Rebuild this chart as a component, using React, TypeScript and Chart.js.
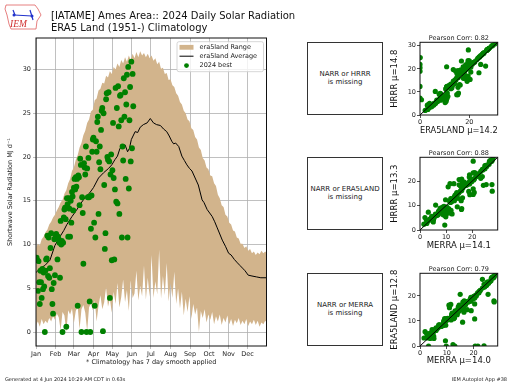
import React, { useEffect, useRef } from "react";
import { Chart, registerables } from "chart.js";

Chart.register(...registerables);

const FONT = "'DejaVu Sans', 'Liberation Sans', sans-serif";
Chart.defaults.font.family = FONT;

// ---------------- data ----------------
const monthStartDays = [1, 32, 61, 92, 122, 153, 183, 214, 245, 275, 306, 336];
const monthLabels = ["Jan", "Feb", "Mar", "Apr", "May", "Jun", "Jul", "Aug", "Sep", "Oct", "Nov", "Dec"];
const mainYTicks = [0, 5, 10, 15, 20, 25, 30];

// era5land range samples, first sample on day 1, one sample every 3 days
const rangeFirstDay = 1;
const rangeEveryDays = 3;
const rangeUpper = [
  9.6, 10.1, 9.9, 10.6, 10.9, 11.4, 11.7, 12.3, 12.6, 13.1,
  13.4, 13.9, 14.3, 14.8, 15.1, 15.8, 16.2, 17.0, 17.5, 18.4,
  18.8, 19.7, 20.2, 21.1, 21.6, 22.5, 23.0, 23.9, 24.3, 25.2,
  25.4, 26.5, 26.7, 27.6, 27.8, 28.5, 28.4, 29.3, 29.1, 29.8,
  29.5, 30.3, 30.0, 30.7, 30.3, 31.1, 30.7, 31.4, 30.9, 31.6,
  31.1, 31.8, 31.3, 32.0, 31.4, 32.1, 31.6, 31.9, 31.4, 31.8,
  31.3, 31.6, 31.0, 31.3, 30.6, 30.9, 30.1, 30.2, 29.5, 29.6,
  28.8, 28.9, 28.2, 28.0, 27.3, 27.0, 26.3, 26.0, 25.3, 25.0,
  24.3, 24.1, 23.3, 23.1, 22.3, 22.0, 21.1, 20.8, 19.9, 19.6,
  18.8, 18.6, 17.9, 17.8, 17.0, 16.7, 15.7, 15.3, 14.5, 14.3,
  13.4, 13.2, 12.5, 12.3, 11.6, 11.5, 10.8, 10.7, 10.1, 10.1,
  9.6, 9.8, 9.3, 9.5, 9.0, 9.2, 8.8, 9.1, 8.9, 9.3,
  9.0, 9.2, 9.0,
];
const rangeLower = [
  0.8, 1.2, 0.6, 1.5, 0.9, 1.3, 1.0, 1.6, 1.2, 1.8,
  1.4, 2.1, 1.7, 0.2, 2.3, 1.9, 0.0, 2.5, 2.0, 2.7,
  1.0, 2.4, 2.9, 0.3, 2.6, 3.1, 2.2, 0.1, 2.8, 3.3,
  2.5, 3.6, 1.2, 3.0, 4.2, 2.6, 3.4, 5.1, 2.9, 3.8,
  2.2, 4.6, 3.2, 5.6, 2.8, 4.0, 6.0, 3.4, 4.8, 2.4,
  5.9, 3.9, 4.4, 7.0, 3.6, 5.3, 4.1, 7.6, 3.7, 6.2,
  4.0, 8.8, 3.9, 5.8, 4.3, 9.4, 3.8, 6.4, 4.2, 7.9,
  3.5, 5.6, 3.9, 6.9, 3.2, 5.0, 2.7, 4.6, 1.9, 3.8,
  2.3, 4.1, 1.5, 3.2, 2.0, 2.8, 0.0, 2.4, 1.6, 2.6,
  1.1, 2.0, 1.4, 2.3, 0.9, 1.8, 1.2, 2.0, 0.8, 1.6,
  1.1, 1.9, 0.9, 1.5, 0.7, 1.4, 1.0, 1.6, 0.8, 1.3,
  0.9, 1.5, 0.7, 1.2, 0.9, 1.4, 0.8, 1.3, 0.6, 1.1,
  0.9, 1.3, 1.0,
];

const avgDays = [
  1, 8, 15, 23, 31, 39, 45, 50, 58, 65,
  71, 79, 86, 92, 100, 108, 116, 121, 126, 130,
  134, 138, 142, 146, 149, 152, 158, 162, 166, 171,
  177, 182, 187, 192, 198, 203, 208, 212, 216, 219,
  222, 227, 232, 236, 240, 244, 248, 253, 258, 264,
  267, 272, 276, 280, 284, 288, 292, 296, 301, 306,
  310, 315, 320, 324, 328, 332, 337, 343, 350, 357,
  366,
];
const avgValues = [
  6.8, 7.3, 7.6, 8.2, 9.9, 10.9, 11.6, 12.3, 13.2, 13.9,
  14.6, 15.4, 15.9, 16.5, 17.6, 18.2, 18.7, 19.1, 19.7, 20.1,
  21.0, 21.2, 21.4, 20.6, 21.0, 22.0, 22.9, 22.8, 23.4, 23.7,
  23.9, 24.4, 23.9, 23.7, 23.6, 23.2, 22.9, 22.4, 21.8, 21.5,
  21.6, 21.2, 20.1, 19.6, 19.1, 18.7, 18.4, 17.6, 16.8, 15.1,
  14.8, 14.0, 13.6, 13.2, 12.6, 11.9, 11.2, 10.5, 9.8, 9.0,
  8.8, 8.3, 7.9, 7.6, 7.3, 7.0, 6.5, 6.4, 6.3, 6.2,
  6.2,
];

// 2024 daily values, first value is Jan 1
const firstDay2024 = 1;
const era5land2024 = [
  8.3, 8.5, 8.2, 4.7, 8.1, 5.7, 3.2, 7.0, 5.7, 3.9,
  7.2, 4.9, 6.8, 5.2, 0.0, 7.0, 8.3, 8.4, 11.0, 6.4,
  10.8, 6.2, 7.3, 9.6, 11.3, 4.9, 3.2, 2.1, 5.6, 10.6,
  6.5, 10.9, 11.2, 10.7, 8.3, 10.9, 10.6, 10.2, 6.2, 12.7,
  10.0, 10.4, 0.0, 10.2, 13.1, 14.0, 14.2, 12.9, 0.6, 15.3,
  14.6, 10.9, 15.3, 14.1, 10.9, 15.0, 12.5, 16.0, 15.5, 13.9,
  16.5, 17.5, 16.3, 17.7, 16.6, 17.5, 3.0, 17.9, 17.7, 14.5,
  19.8, 19.1, 0.0, 15.4, 13.6, 7.8, 19.3, 18.8, 18.0, 21.2,
  0.0, 18.7, 15.4, 19.9, 15.4, 3.5, 0.0, 11.8, 15.6, 20.6,
  22.0, 22.2, 12.5, 3.0, 10.8, 21.8, 20.6, 24.0, 24.6, 13.5,
  19.4, 21.2, 18.6, 23.1, 25.3, 25.6, 0.1, 25.0, 16.8, 9.5,
  11.3, 26.6, 27.3, 20.0, 19.7, 27.4, 19.5, 3.9, 18.0, 20.3,
  8.2, 18.5, 23.9, 17.6, 8.3, 16.3, 27.9, 14.9, 25.6, 14.7,
  28.1, 23.5, 13.5, 27.0, 27.1, 24.2, 10.8, 21.2, 19.6, 29.0,
  24.6, 27.4, 17.5, 26.0, 29.4, 10.8, 30.3, 16.4, 24.2, 28.0,
  19.5, 30.9, 21.0, 29.5, 25.8,
];
const hrrr2024 = [
  7.9, 8.8, 7.5, 3.6, 7.0, 5.1, 2.4, 6.2, 4.8, 3.3,
  6.1, 4.0, 6.5, 4.3, 7.3, 5.9, 8.9, 7.6, 9.4, 5.2,
  7.4, 10.2, 6.1, 8.0, 8.1, 4.4, 2.7, 2.0, 4.3, 6.9,
  5.6, 7.2, 11.8, 6.8, 6.4, 7.9, 6.0, 5.4, 5.0, 12.0,
  6.3, 11.3, 12.4, 7.7, 12.7, 13.5, 15.1, 11.7, 6.6, 16.2,
  15.3, 12.4, 8.8, 14.5, 9.7, 17.9, 11.4, 13.2, 16.3, 14.6,
  19.6, 18.3, 13.0, 18.6, 19.0, 18.5, 4.1, 18.9, 18.2, 19.0,
  20.6, 14.6, 19.0, 18.5, 14.2, 9.0, 20.3, 19.8, 17.3, 22.0,
  20.5, 19.9, 12.0, 21.0, 19.2, 4.6, 21.9, 12.9, 9.5, 20.7,
  22.9, 23.0, 13.4, 4.3, 20.9, 22.8, 18.6, 25.1, 25.7, 19.7,
  22.6, 22.4, 15.8, 24.0, 26.4, 26.5, 24.9, 26.0, 23.4, 8.4,
  12.3, 21.2, 28.4, 23.5, 20.6, 28.3, 16.9, 5.0, 18.6, 15.4,
  9.4, 21.7, 18.3, 15.9, 9.3, 17.7, 28.8, 8.8, 26.7, 15.9,
  29.0, 24.6, 14.7, 28.0, 28.1, 25.1, 12.0, 22.4, 28.2, 29.8,
  21.9, 28.3, 20.9, 27.0, 30.1, 12.2, 30.8, 18.5, 25.3, 28.9,
  23.6, 31.5, 22.3, 30.2, 26.8,
];
const merra2024 = [
  7.4, 9.0, 7.2, 3.0, 7.6, 1.9, 1.5, 6.3, 5.1, 5.1,
  6.0, 2.5, 5.9, 4.0, 3.2, 6.4, 7.7, 7.1, 10.3, 5.5,
  10.1, 6.0, 6.8, 8.8, 11.9, 3.6, 2.6, 9.5, 4.6, 10.8,
  4.5, 10.2, 11.4, 9.8, 7.0, 11.6, 9.4, 9.9, 4.8, 13.2,
  8.9, 11.6, 9.8, 9.3, 12.0, 13.1, 14.8, 12.2, 12.3, 16.0,
  14.1, 12.6, 11.0, 19.1, 9.2, 15.6, 11.8, 16.3, 15.8, 13.8,
  17.0, 17.8, 14.6, 18.2, 11.5, 17.0, 3.8, 19.0, 17.2, 17.6,
  20.1, 20.4, 13.0, 15.0, 13.4, 8.0, 19.6, 19.8, 16.5, 21.5,
  20.6, 19.0, 15.8, 20.9, 16.2, 4.0, 21.6, 11.8, 14.3, 15.0,
  22.4, 22.5, 13.9, 5.2, 20.4, 22.1, 25.4, 24.5, 24.9, 16.4,
  19.0, 21.8, 18.7, 23.3, 24.9, 25.3, 23.9, 25.6, 20.4, 15.9,
  12.9, 23.3, 27.0, 21.0, 20.1, 26.8, 20.4, 4.4, 27.6, 20.8,
  8.7, 18.9, 24.3, 27.7, 9.6, 10.8, 27.5, 16.0, 26.0, 15.5,
  27.9, 24.1, 14.2, 26.6, 27.3, 24.9, 11.8, 22.0, 20.4, 28.1,
  23.9, 27.6, 16.0, 26.5,
];

const legendLabels = ["era5land Range", "era5land Average", "2024 best"];

// ---------------- plugins ----------------
const framePlugin = {
  id: "frame",
  afterDraw(chart: any) {
    const { ctx, chartArea: a } = chart;
    ctx.save();
    ctx.strokeStyle = "#111";
    ctx.lineWidth = 1;
    ctx.strokeRect(a.left, a.top, a.right - a.left, a.bottom - a.top);
    ctx.restore();
  },
};

const mainLegendPlugin = {
  id: "mainLegend",
  afterDraw(chart: any) {
    const { ctx, chartArea: a } = chart;
    ctx.save();
    const bx = a.right - 89.5, by = a.top + 3.7, bw = 86.5, bh = 30;
    ctx.beginPath();
    if (ctx.roundRect) ctx.roundRect(bx, by, bw, bh, 2);
    else ctx.rect(bx, by, bw, bh);
    ctx.fillStyle = "rgba(255,255,255,0.8)";
    ctx.fill();
    ctx.strokeStyle = "#cccccc";
    ctx.lineWidth = 0.8;
    ctx.stroke();
    const sx = a.right - 87, sw = 14, tx = a.right - 67;
    const rows = [a.top + 9.3, a.top + 18.2, a.top + 27.6];
    ctx.fillStyle = "#d2b48c";
    ctx.fillRect(sx, rows[0] - 2.4, sw, 4.8);
    ctx.strokeStyle = "#000";
    ctx.lineWidth = 1;
    ctx.beginPath();
    ctx.moveTo(sx, rows[1]);
    ctx.lineTo(sx + sw, rows[1]);
    ctx.stroke();
    ctx.fillStyle = "#008000";
    ctx.beginPath();
    ctx.arc(sx + sw / 2, rows[2], 2.4, 0, Math.PI * 2);
    ctx.fill();
    ctx.fillStyle = "#222";
    ctx.font = `6.5px ${FONT}`;
    ctx.textBaseline = "middle";
    ctx.textAlign = "left";
    legendLabels.forEach((t, i) => ctx.fillText(t, tx, rows[i]));
    ctx.restore();
  },
};

const makeTitlePlugin = (text: string) => ({
  id: "panelTitle",
  afterDraw(chart: any) {
    const { ctx, chartArea: a } = chart;
    ctx.save();
    ctx.fillStyle = "#222";
    ctx.font = `6.5px ${FONT}`;
    ctx.textAlign = "center";
    ctx.textBaseline = "middle";
    ctx.fillText(text, (a.left + a.right) / 2, a.top - 3.6);
    ctx.restore();
  },
});

// ---------------- main chart ----------------
function MainChart() {
  const ref = useRef<HTMLCanvasElement>(null);
  useEffect(() => {
    const lowerPts = rangeLower.map((v, i) => ({ x: rangeFirstDay + i * rangeEveryDays, y: v }));
    const upperPts = rangeUpper.map((v, i) => ({ x: rangeFirstDay + i * rangeEveryDays, y: v }));
    const avgPts = avgDays.map((d, i) => ({ x: d, y: avgValues[i] }));
    const bestPts = era5land2024.map((v, i) => ({ x: firstDay2024 + i, y: v }));
    const tickFont = { size: 6.5, family: FONT };
    const chart = new Chart(ref.current!, {
      type: "line",
      data: {
        datasets: [
          { label: "lower", data: lowerPts, borderWidth: 0, pointRadius: 0, fill: false, order: 3, tension: 0, clip: 0 } as any,
          { label: legendLabels[0], data: upperPts, borderWidth: 0, pointRadius: 0, fill: "-1", backgroundColor: "#d2b48c", borderColor: "#d2b48c", order: 2, tension: 0, clip: 0 } as any,
          { label: legendLabels[1], data: avgPts, borderColor: "#000", borderWidth: 1, pointRadius: 0, fill: false, order: 1, tension: 0, clip: 0 } as any,
          { label: legendLabels[2], data: bestPts, showLine: false, pointRadius: 2.9, pointBackgroundColor: "#008000", pointBorderWidth: 0, order: 0, clip: 0 } as any,
        ],
      },
      options: {
        animation: false,
        responsive: false,
        events: [],
        layout: { padding: { top: 38, right: 33.5, left: 0, bottom: 0 } },
        plugins: { legend: { display: false }, tooltip: { enabled: false } },
        scales: {
          x: {
            type: "linear",
            min: 1,
            max: 366,
            afterBuildTicks: (s: any) => { s.ticks = monthStartDays.map((v) => ({ value: v })); },
            afterFit: (s: any) => { s.height = 38; },
            ticks: {
              callback: (v: any) => monthLabels[monthStartDays.indexOf(Number(v))],
              font: tickFont, color: "#222", padding: 1, maxRotation: 0, autoSkip: false,
            },
            grid: { color: "#b0b0b0", lineWidth: 0.8, tickLength: 3 },
            border: { display: false },
            title: { display: true, text: "* Climatology has 7 day smooth applied", font: tickFont, color: "#222", padding: { top: 0, bottom: 18 } },
          },
          y: {
            type: "linear",
            min: -1.6,
            max: 33.6,
            afterBuildTicks: (s: any) => { s.ticks = mainYTicks.map((v) => ({ value: v })); },
            afterFit: (s: any) => { s.width = 36; },
            ticks: { font: tickFont, color: "#222", padding: 2 },
            grid: { color: "#b0b0b0", lineWidth: 0.8, tickLength: 3 },
            border: { display: false },
            title: { display: true, text: "Shortwave Solar Radiation MJ d\u207B\u00B9", font: tickFont, color: "#222", padding: { top: 6, bottom: 0 } },
          },
        },
      } as any,
      plugins: [framePlugin, mainLegendPlugin],
    });
    return () => chart.destroy();
  }, []);
  return <canvas ref={ref} width={300} height={384} style={{ position: "absolute", left: 0, top: 0 }} />;
}

// ---------------- scatter panels ----------------
type PanelProps = {
  top: number;
  padTop: number;
  xAxisHeight: number;
  xs: number[];
  ys: number[];
  xTicks: number[];
  yTicks: number[];
  title: string;
  xLabel: string;
  yLabel: string;
};

function ScatterPanel(p: PanelProps) {
  const ref = useRef<HTMLCanvasElement>(null);
  useEffect(() => {
    const n = Math.min(p.xs.length, p.ys.length);
    const pts: { x: number; y: number }[] = [];
    for (let i = 0; i < n; i++) pts.push({ x: p.xs[i], y: p.ys[i] });
    const lim = Math.max(...pts.map((q) => Math.max(q.x, q.y)));
    const tickFont = { size: 6.5, family: FONT };
    const labelFont = { size: 8.5, family: FONT };
    const chart = new Chart(ref.current!, {
      type: "scatter",
      data: {
        datasets: [
          { data: [{ x: 0, y: 0 }, { x: lim, y: lim }], showLine: true, borderColor: "#000", borderWidth: 1, pointRadius: 0, order: 0, clip: 0 } as any,
          { data: pts, pointRadius: 2.6, pointBackgroundColor: "#008000", pointBorderWidth: 0, order: 1, clip: 0 } as any,
        ],
      },
      options: {
        animation: false,
        responsive: false,
        events: [],
        layout: { padding: { top: p.padTop, right: 14.3, left: 0, bottom: 0 } },
        plugins: { legend: { display: false }, tooltip: { enabled: false } },
        scales: {
          x: {
            type: "linear", min: 0, max: lim,
            afterBuildTicks: (s: any) => { s.ticks = p.xTicks.map((v) => ({ value: v })); },
            afterFit: (s: any) => { s.height = p.xAxisHeight; },
            ticks: { font: tickFont, color: "#222", padding: 0.5, maxRotation: 0, autoSkip: false },
            grid: { drawOnChartArea: false, tickLength: 3, color: "#222", lineWidth: 0.8 },
            border: { display: false },
            title: { display: true, text: p.xLabel, font: labelFont, color: "#111", padding: { top: 0, bottom: 9.2 } },
          },
          y: {
            type: "linear", min: 0, max: lim,
            afterBuildTicks: (s: any) => { s.ticks = p.yTicks.map((v) => ({ value: v })); },
            afterFit: (s: any) => { s.width = 36; },
            ticks: { font: tickFont, color: "#222", padding: 1 },
            grid: { drawOnChartArea: false, tickLength: 3, color: "#222", lineWidth: 0.8 },
            border: { display: false },
            title: { display: true, text: p.yLabel, font: labelFont, color: "#111", padding: { top: 5.9, bottom: 0 } },
          },
        },
      } as any,
      plugins: [framePlugin, makeTitlePlugin(p.title)],
    });
    return () => chart.destroy();
  }, []);
  return <canvas ref={ref} width={128} height={115} style={{ position: "absolute", left: 384, top: p.top }} />;
}

function MissingBox({ top, lines }: { top: number; lines: string[] }) {
  return (
    <div
      style={{
        position: "absolute", left: 307, top, width: 76, height: 73, boxSizing: "border-box",
        border: "1px solid #333", display: "flex", flexDirection: "column", alignItems: "center",
        justifyContent: "center", fontSize: 7, lineHeight: "7.6px", color: "#222", textAlign: "center",
      }}
    >
      {lines.map((l, i) => (<div key={i}>{l}</div>))}
    </div>
  );
}

function Logo() {
  return (
    <svg width={42} height={32} style={{ position: "absolute", left: 2, top: 1 }}>
      <path d="M4 4 L33 4 L36 8 L39 14 L35 20 L34 28 L9 28 L7 23 L5 14 L3 8 Z" fill="none" stroke="#e06060" strokeWidth={0.8} />
      <line x1={11} y1={9} x2={13} y2={14} stroke="#2233cc" strokeWidth={1.2} />
      <line x1={12} y1={14} x2={30} y2={15} stroke="#2233cc" strokeWidth={1.2} />
      <line x1={28} y1={9} x2={31} y2={19} stroke="#2233cc" strokeWidth={1.2} />
      <circle cx={12} cy={14} r={1.5} fill="#2233cc" />
      <circle cx={30} cy={15} r={1.5} fill="#2233cc" />
      <text x={8} y={26} fontFamily="'Liberation Serif', serif" fontStyle="italic" fontSize={9.5} fill="#d03030">IEM</text>
    </svg>
  );
}

export default function App() {
  return (
    <div style={{ position: "fixed", left: 0, top: 0, width: 512, height: 384, background: "#fff", overflow: "hidden", fontFamily: FONT }}>
      <MainChart />
      <ScatterPanel top={30} padTop={12.3} xAxisHeight={30} xs={era5land2024} ys={hrrr2024} xTicks={[0, 20]} yTicks={[0, 10, 20, 30]}
        title="Pearson Corr: 0.82" xLabel={"ERA5LAND \u03BC=14.2"} yLabel={"HRRR \u03BC=14.8"} />
      <ScatterPanel top={145} padTop={12.3} xAxisHeight={30} xs={merra2024} ys={hrrr2024} xTicks={[0, 10, 20]} yTicks={[0, 10, 20]}
        title="Pearson Corr: 0.88" xLabel={"MERRA \u03BC=14.1"} yLabel={"HRRR \u03BC=13.3"} />
      <ScatterPanel top={260} padTop={13.3} xAxisHeight={29} xs={merra2024} ys={era5land2024} xTicks={[0, 10, 20]} yTicks={[0, 10, 20]}
        title="Pearson Corr: 0.79" xLabel={"MERRA \u03BC=14.0"} yLabel={"ERA5LAND \u03BC=12.8"} />
      <MissingBox top={42} lines={["NARR or HRRR", "is missing"]} />
      <MissingBox top={157} lines={["NARR or ERA5LAND", "is missing"]} />
      <MissingBox top={273} lines={["NARR or MERRA", "is missing"]} />
      <Logo />
      <div style={{ position: "absolute", left: 51, top: 10, fontSize: 10, lineHeight: "12px", color: "#111", whiteSpace: "nowrap" }}>
        <div>[IATAME] Ames Area:: 2024 Daily Solar Radiation</div>
        <div>ERA5 Land (1951-) Climatology</div>
      </div>
      <div style={{ position: "absolute", left: 5, top: 376, fontSize: 5, lineHeight: "6px", color: "#222", whiteSpace: "nowrap" }}>
        Generated at 4 Jun 2024 10:29 AM CDT in 0.63s
      </div>
      <div style={{ position: "absolute", right: 5, top: 376, fontSize: 5, lineHeight: "6px", color: "#222", whiteSpace: "nowrap" }}>
        IEM Autoplot App #38
      </div>
    </div>
  );
}
